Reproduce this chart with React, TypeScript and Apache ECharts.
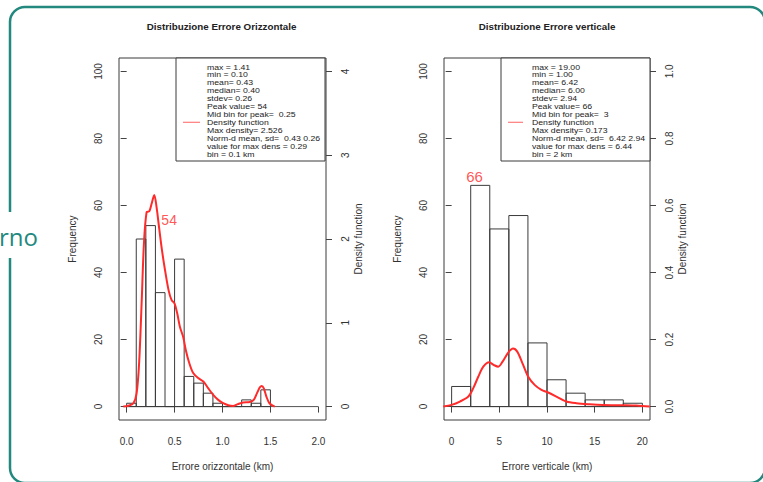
import React, { useEffect, useRef } from "react";
import * as echarts from "echarts";

// ---------- data ----------
const horizBinEdges = [0, 0.1, 0.2, 0.3, 0.4, 0.5, 0.6, 0.7, 0.8, 0.9, 1.0, 1.1, 1.2, 1.3, 1.4, 1.5];
const horizCounts = [1, 50, 54, 34, 0, 44, 9, 7, 4, 1, 0, 0, 2, 1, 5];
const horizDensity: [number, number][] = [
  [-0.035, 0], [0.017, 0.01], [0.07, 0.04], [0.104, 0.16], [0.13, 0.52], [0.156, 1.23],
  [0.18, 1.94], [0.208, 2.32], [0.236, 2.33], [0.26, 2.42], [0.288, 2.526], [0.312, 2.38],
  [0.34, 2.12], [0.368, 1.87], [0.4, 1.63], [0.437, 1.39], [0.469, 1.27], [0.5, 1.23],
  [0.528, 1.11], [0.556, 0.95], [0.59, 0.83], [0.618, 0.67], [0.653, 0.52], [0.694, 0.4],
  [0.746, 0.34], [0.8, 0.3], [0.85, 0.22], [0.903, 0.14], [0.955, 0.08], [1.007, 0.04],
  [1.06, 0.016], [1.11, 0.008], [1.16, 0.03], [1.215, 0.05], [1.285, 0.055], [1.326, 0.08],
  [1.36, 0.16], [1.39, 0.23], [1.41, 0.246], [1.43, 0.22], [1.458, 0.12], [1.49, 0.04], [1.545, 0],
];
const vertBinEdges = [0, 2, 4, 6, 8, 10, 12, 14, 16, 18, 20];
const vertCounts = [6, 66, 53, 57, 19, 8, 4, 2, 2, 1];
const vertDensity: [number, number][] = [
  [-0.87, 0], [0, 0.005], [0.87, 0.015], [1.75, 0.03], [2.27, 0.055], [2.79, 0.089],
  [3.32, 0.119], [3.94, 0.132], [4.43, 0.124], [4.89, 0.119], [5.34, 0.134], [5.93, 0.161],
  [6.44, 0.173], [6.88, 0.164], [7.43, 0.129], [8.03, 0.089], [8.73, 0.064], [9.42, 0.05],
  [10.12, 0.042], [10.99, 0.03], [12.04, 0.015], [13.09, 0.01], [14.48, 0.007], [15.88, 0.005],
  [17.97, 0.004], [19.37, 0.003], [20.77, 0],
];

const horizStats = [
  "max = 1.41", "min = 0.10", "mean= 0.43", "median= 0.40", "stdev= 0.26", "Peak value= 54",
  "Mid bin for peak=  0.25", "Density function", "Max density= 2.526",
  "Norm-d mean, sd=  0.43 0.26", "value for max dens = 0.29", "bin = 0.1 km",
];
const vertStats = [
  "max = 19.00", "min = 1.00", "mean= 6.42", "median= 6.00", "stdev= 2.94", "Peak value= 66",
  "Mid bin for peak=  3", "Density function", "Max density= 0.173",
  "Norm-d mean, sd=  6.42 2.94", "value for max dens = 6.44", "bin = 2 km",
];

const horizXTicks = [0, 0.5, 1.0, 1.5, 2.0];
const vertXTicks = [0, 5, 10, 15, 20];
const freqTicks = [0, 20, 40, 60, 80, 100];
const horizDensTicks = [0, 1, 2, 3, 4];
const vertDensTicks = [0, 0.2, 0.4, 0.6, 0.8, 1.0];

const horizPeakLabelAt: [number, number] = [0.443, 55.7];
const vertPeakLabelAt: [number, number] = [2.41, 68.5];

const titles = ["Distribuzione Errore Orizzontale", "Distribuzione Errore verticale"];
const xNames = ["Errore orizzontale (km)", "Errore verticale (km)"];

// ---------- styles ----------
const FONT = "Liberation Sans";
const INK = "#333";
const RED = "#ff2a2a";
const TEAL = "#23897f";

function histSeries(edges: number[], counts: number[], xi: number, yi: number) {
  const data = counts.map((c, i) => [edges[i], edges[i + 1], c]);
  return {
    type: "custom",
    xAxisIndex: xi,
    yAxisIndex: yi,
    data,
    renderItem: (params: any, api: any) => {
      const p0 = api.coord([api.value(0), api.value(2)]);
      const p1 = api.coord([api.value(1), 0]);
      return {
        type: "rect",
        shape: { x: p0[0], y: p0[1], width: p1[0] - p0[0], height: p1[1] - p0[1] },
        style: { fill: "none", stroke: "#3a3a3a", lineWidth: 1 },
      };
    },
    z: 2,
  };
}

function xAxisCfg(grid: number, min: number, max: number, ticks: number[], fmt: (v: number) => string, name: string) {
  return {
    type: "value",
    gridIndex: grid,
    min,
    max,
    name,
    nameLocation: "middle",
    nameGap: 41,
    nameTextStyle: { fontFamily: FONT, fontSize: 10, color: INK },
    axisLine: { show: false },
    splitLine: { show: false },
    axisTick: { show: true, customValues: ticks, length: 6, lineStyle: { color: "#444" } },
    axisLabel: {
      show: true,
      customValues: ticks,
      formatter: (v: number) => fmt(v),
      margin: 16,
      fontFamily: FONT,
      fontSize: 10,
      color: INK,
    },
  };
}

function yAxisCfg(grid: number, pos: "left" | "right", min: number, max: number, ticks: number[], fmt: (v: number) => string, name: string, gap: number, margin: number) {
  return {
    type: "value",
    gridIndex: grid,
    position: pos,
    min,
    max,
    name,
    nameLocation: "middle",
    nameRotate: 90,
    nameGap: gap,
    nameTextStyle: { fontFamily: FONT, fontSize: 10, color: INK },
    axisLine: { show: false },
    splitLine: { show: false },
    axisTick: { show: true, customValues: ticks, length: 6, lineStyle: { color: "#444" } },
    axisLabel: {
      show: true,
      customValues: ticks,
      formatter: (v: number) => fmt(v),
      rotate: 90,
      margin,
      fontFamily: FONT,
      fontSize: 10,
      color: INK,
    },
  };
}

function legendBox(x: number, textX: number, lineX0: number, lineX1: number, lines: string[]) {
  const top = 58;
  const lh = 7.94;
  const textTop = 62.7;
  const idx = lines.indexOf("Density function");
  const ly = textTop + (idx + 0.5) * lh;
  const els: any[] = [
    {
      type: "rect",
      shape: { x, y: top, width: 149, height: 103 },
      style: { fill: "#fff", stroke: "#3a3a3a", lineWidth: 1 },
      z: 10,
    },
    {
      type: "line",
      shape: { x1: lineX0, y1: ly, x2: lineX1, y2: ly },
      style: { stroke: "#ff6060", lineWidth: 1 },
      z: 11,
    },
  ];
  lines.forEach((t, i) => {
    els.push({
      type: "text",
      x: textX,
      y: textTop + (i + 0.5) * lh,
      scaleX: 1.1,
      style: {
        text: t,
        font: `7.9px ${FONT}`,
        fill: "#222",
        textAlign: "left",
        textVerticalAlign: "middle",
      },
      z: 11,
    });
  });
  return els;
}

export default function App() {
  const ref = useRef<HTMLDivElement>(null);
  useEffect(() => {
    if (!ref.current) return;
    const chart = echarts.init(ref.current, undefined, { renderer: "svg" });
    const horizPeak = Math.max(...horizCounts);
    const vertPeak = Math.max(...vertCounts);
    chart.setOption({
      animation: false,
      backgroundColor: "#fff",
      grid: [
        { left: 119, top: 58, width: 207, height: 362, show: true, borderColor: "#3a3a3a", borderWidth: 1, backgroundColor: "transparent" },
        { left: 444, top: 58, width: 206, height: 362, show: true, borderColor: "#3a3a3a", borderWidth: 1, backgroundColor: "transparent" },
      ],
      xAxis: [
        xAxisCfg(0, -0.08, 2.08, horizXTicks, (v) => v.toFixed(1), xNames[0]),
        xAxisCfg(1, -0.8, 20.8, vertXTicks, (v) => String(Math.round(v)), xNames[1]),
      ],
      yAxis: [
        yAxisCfg(0, "left", -4, 104, freqTicks, (v) => String(Math.round(v)), "Frequency", 42, 16),
        yAxisCfg(0, "right", -0.16, 4.16, horizDensTicks, (v) => String(Math.round(v)), "Density function", 27, 14),
        yAxisCfg(1, "left", -4, 104, freqTicks, (v) => String(Math.round(v)), "Frequency", 42, 16),
        yAxisCfg(1, "right", -0.04, 1.04, vertDensTicks, (v) => v.toFixed(1), "Density function", 27, 14),
      ],
      series: [
        histSeries(horizBinEdges, horizCounts, 0, 0),
        histSeries(vertBinEdges, vertCounts, 1, 2),
        {
          type: "line",
          xAxisIndex: 0,
          yAxisIndex: 0,
          data: [[horizXTicks[0], 0], [horizXTicks[horizXTicks.length - 1], 0]],
          symbol: "none",
          lineStyle: { color: "#555", width: 1 },
          z: 1,
        },
        {
          type: "line",
          xAxisIndex: 1,
          yAxisIndex: 2,
          data: [[vertXTicks[0], 0], [vertXTicks[vertXTicks.length - 1], 0]],
          symbol: "none",
          lineStyle: { color: "#555", width: 1 },
          z: 1,
        },
        {
          type: "line",
          xAxisIndex: 0,
          yAxisIndex: 1,
          data: horizDensity,
          symbol: "none",
          smooth: 0.3,
          lineStyle: { color: RED, width: 2 },
          z: 3,
        },
        {
          type: "line",
          xAxisIndex: 1,
          yAxisIndex: 3,
          data: vertDensity,
          symbol: "none",
          smooth: 0.3,
          lineStyle: { color: RED, width: 2 },
          z: 3,
        },
        {
          type: "scatter",
          xAxisIndex: 0,
          yAxisIndex: 0,
          symbolSize: 1,
          itemStyle: { color: "transparent" },
          data: [{ value: horizPeakLabelAt, name: String(horizPeak) }],
          label: { show: true, position: "inside", formatter: (p: any) => p.name, color: RED, fontFamily: FONT, fontSize: 14 },
          z: 4,
        },
        {
          type: "scatter",
          xAxisIndex: 1,
          yAxisIndex: 2,
          symbolSize: 1,
          itemStyle: { color: "transparent" },
          data: [{ value: vertPeakLabelAt, name: String(vertPeak) }],
          label: { show: true, position: "inside", formatter: (p: any) => p.name, color: RED, fontFamily: FONT, fontSize: 15 },
          z: 4,
        },
      ],
      graphic: [
        {
          type: "rect",
          shape: { x: 10, y: 7, width: 755, height: 476, r: 15 },
          style: { fill: "none", stroke: TEAL, lineWidth: 2.5 },
          z: 0,
        },
        {
          type: "rect",
          shape: { x: 0, y: 212, width: 40, height: 46 },
          style: { fill: "#fff" },
          z: 1,
        },
        {
          type: "text",
          x: 38,
          y: 236,
          style: { text: "rno", font: `24px 'Open Sans'`, fill: TEAL, textAlign: "right", textVerticalAlign: "middle" },
          z: 2,
        },
        {
          type: "text",
          x: 221.5,
          y: 26.7,
          style: { text: titles[0], font: `bold 9.8px ${FONT}`, fill: "#222", textAlign: "center", textVerticalAlign: "middle" },
        },
        {
          type: "text",
          x: 547,
          y: 26.7,
          style: { text: titles[1], font: `bold 9.8px ${FONT}`, fill: "#222", textAlign: "center", textVerticalAlign: "middle" },
        },
        ...legendBox(176, 207, 183, 200, horizStats),
        ...legendBox(501, 532, 508, 523, vertStats),
      ],
    });
    return () => chart.dispose();
  }, []);
  return <div ref={ref} style={{ position: "absolute", left: 0, top: 0, width: 763, height: 482 }} />;
}
